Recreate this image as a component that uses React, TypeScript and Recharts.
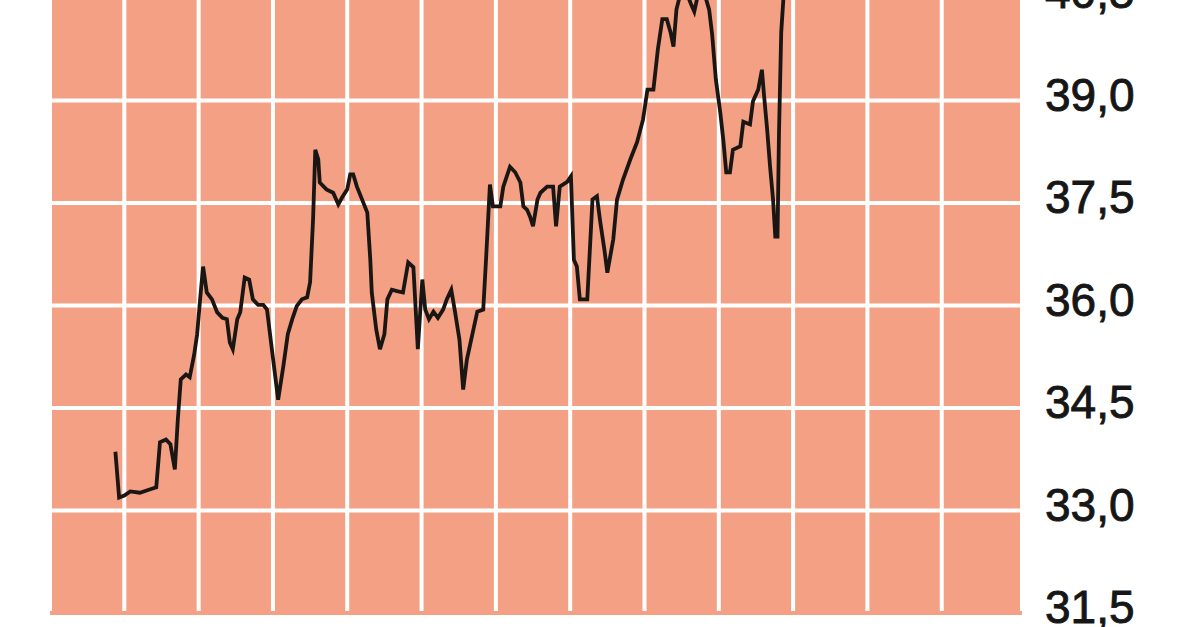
import React from 'react';
import { LineChart, Line, XAxis, YAxis, CartesianGrid, ReferenceLine } from 'recharts';

// time position in month columns (one grid column = one month)
const months = [
  0.88, 0.93, 1.0, 1.08, 1.21, 1.35, 1.43, 1.48, 1.56, 1.62, 1.68, 1.72, 1.76, 1.83, 1.88, 1.94, 1.98,
  2.02, 2.06, 2.11, 2.18, 2.25, 2.32, 2.38, 2.42, 2.46, 2.52, 2.56, 2.62, 2.68, 2.73, 2.8, 2.87, 2.92, 2.97,
  3.02, 3.07, 3.14, 3.2, 3.26, 3.32, 3.39, 3.46, 3.5, 3.54, 3.57, 3.61, 3.63, 3.72, 3.81, 3.88, 3.93,
  4.0, 4.04, 4.08, 4.13, 4.2, 4.27, 4.31, 4.33, 4.39, 4.44, 4.5, 4.54, 4.6, 4.67, 4.75, 4.82, 4.89, 4.95,
  5.01, 5.05, 5.1, 5.16, 5.22, 5.29, 5.34, 5.4, 5.45, 5.51, 5.56, 5.61, 5.69, 5.75, 5.83, 5.87, 5.92, 5.96,
  6.06, 6.1, 6.19, 6.26, 6.33, 6.37, 6.42, 6.46, 6.5, 6.56, 6.6, 6.69, 6.77, 6.81, 6.86, 6.96,
  7.01, 7.05, 7.09, 7.13, 7.23, 7.3, 7.36, 7.4, 7.46, 7.5, 7.58, 7.63, 7.71, 7.81, 7.9, 7.98,
  8.04, 8.12, 8.18, 8.24, 8.3, 8.35, 8.39, 8.43, 8.48, 8.56, 8.63, 8.67, 8.72, 8.8, 8.87, 8.91, 8.96,
  9.02, 9.06, 9.1, 9.15, 9.19, 9.29, 9.33, 9.42, 9.46, 9.53, 9.58, 9.61, 9.65, 9.69, 9.73, 9.76, 9.79,
  9.81, 9.84, 9.88,
];

const prices = [
  33.86, 33.19, 33.22, 33.28, 33.26, 33.31, 33.34, 34.0, 34.04, 33.97, 33.6, 34.33, 34.92, 34.99, 34.95, 35.28, 35.58,
  36.09, 36.57, 36.19, 36.09, 35.9, 35.82, 35.8, 35.46, 35.36, 35.8, 35.9, 36.41, 36.38, 36.09, 36.01, 36.01, 35.94, 35.5,
  35.06, 34.62, 35.11, 35.58, 35.8, 35.99, 36.09, 36.12, 36.34, 37.26, 38.28, 38.14, 37.8, 37.7, 37.65, 37.48, 37.58,
  37.7, 37.92, 37.92, 37.74, 37.55, 37.36, 36.67, 36.19, 35.65, 35.36, 35.58, 36.09, 36.23, 36.21, 36.19, 36.63, 36.56, 35.36,
  36.38, 35.94, 35.8, 35.91, 35.82, 35.94, 36.09, 36.23, 35.91, 35.5, 34.77, 35.21, 35.61, 35.91, 35.94, 36.72, 37.77, 37.45,
  37.45, 37.74, 38.03, 37.95, 37.8, 37.45, 37.4, 37.3, 37.16, 37.55, 37.65, 37.74, 37.74, 37.16, 37.74, 37.81,
  37.89, 36.67, 36.57, 36.09, 36.09, 37.55, 37.6, 37.26, 36.82, 36.48, 36.97, 37.55, 37.84, 38.14, 38.39, 38.72,
  39.16, 39.16, 39.75, 40.19, 40.19, 40.0, 39.79, 40.33, 40.55, 40.59, 40.4, 40.3, 40.55, 40.59, 40.33, 39.97, 39.31,
  38.82, 38.43, 37.95, 37.95, 38.28, 38.33, 38.69, 38.65, 38.99, 39.16, 39.45, 39.06, 38.58, 38.03, 37.55, 37.01, 37.01,
  38.53, 40.0, 40.67,
];

const monthTicks = [1, 2, 3, 4, 5, 6, 7, 8, 9, 10, 11, 12];
const priceTicks = [31.5, 33, 34.5, 36, 37.5, 39, 40.5];

const data = prices.map((p, i) => ({ t: months[i], price: p }));

const SALMON = '#F3A084';

const PriceTick = ({ x, y, payload }: any) => (
  <text
    x={x}
    y={y}
    dy={10}
    textAnchor="start"
    fill="#161616"
    stroke="#161616"
    strokeWidth={0.9}
    fontSize={46}
    fontFamily="Liberation Sans, Arial, sans-serif"
  >
    {payload.value.toFixed(1).replace('.', ',')}
  </text>
);

export default function App() {
  return (
    <div style={{ position: 'absolute', left: 0, top: -2, width: 1200, height: 629, background: '#fff' }}>
      <LineChart width={1200} height={629} data={data} margin={{ top: 0, right: 0, left: 50, bottom: 13 }}>
        <CartesianGrid fill={SALMON} fillOpacity={1} stroke="#ffffff" strokeWidth={4} />
        {/* the chart bottom has no white rule, only the salmon edge */}
        <ReferenceLine y={31.5} stroke={SALMON} strokeWidth={4} />
        <XAxis
          type="number"
          dataKey="t"
          domain={[0, 13.08]}
          ticks={monthTicks}
          interval={0}
          allowDataOverflow
          height={1}
          tick={() => <g />}
          axisLine={false}
          tickLine={false}
        />
        <YAxis
          orientation="right"
          width={178}
          domain={[31.5, 40.5]}
          ticks={priceTicks}
          interval={0}
          allowDataOverflow
          axisLine={false}
          tickLine={false}
          tickSize={0}
          tickMargin={23}
          tick={<PriceTick />}
        />
        <Line
          type="linear"
          dataKey="price"
          stroke="#1a1614"
          strokeWidth={3.8}
          dot={false}
          isAnimationActive={false}
        />
      </LineChart>
    </div>
  );
}
